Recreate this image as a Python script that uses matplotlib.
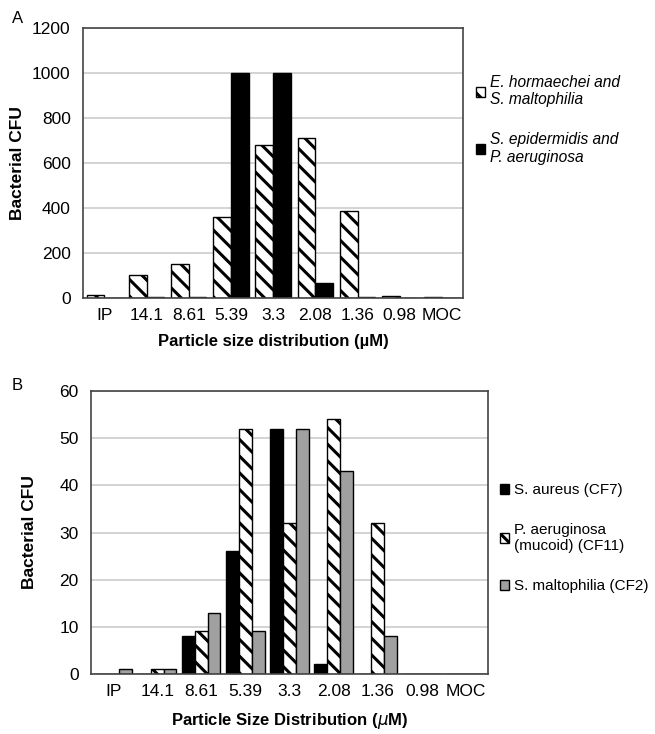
import matplotlib
matplotlib.use("Agg")
import matplotlib.pyplot as plt
import numpy as np

plt.rcParams['font.family'] = ['Liberation Sans', 'DejaVu Sans']
plt.rcParams['hatch.linewidth'] = 2.2

sizes = ['IP', '14.1', '8.61', '5.39', '3.3', '2.08', '1.36', '0.98', 'MOC']

# panel A
a_hormaechei = [15, 100, 150, 360, 680, 710, 385, 10, 5]
a_epidermidis = [0, 5, 5, 1000, 1000, 65, 5, 0, 0]
a_labels = ['E. hormaechei and\nS. maltophilia', 'S. epidermidis and\nP. aeruginosa']

# panel B
b_aureus = [0, 0, 8, 26, 52, 2, 0, 0, 0]
b_aeruginosa = [0, 1, 9, 52, 32, 54, 32, 0, 0]
b_maltophilia = [1, 1, 13, 9, 52, 43, 8, 0, 0]
b_labels = ['S. aureus (CF7)', 'P. aeruginosa\n(mucoid) (CF11)', 'S. maltophilia (CF2)']

fig = plt.figure(figsize=(6.55, 7.34), dpi=100)
ax1 = fig.add_axes([0.127, 0.594, 0.580, 0.368])
ax2 = fig.add_axes([0.139, 0.082, 0.606, 0.385])

x = np.arange(len(sizes))


def style_axes(ax, ymax, step):
    ax.set_xlim(-0.5, len(sizes) - 0.5)
    ax.set_ylim(0, ymax)
    ax.set_yticks(np.arange(0, ymax + 1, step))
    ax.set_xticks(x)
    ax.set_xticklabels(sizes)
    ax.yaxis.grid(True, color='#cccccc', linewidth=1.2)
    ax.set_axisbelow(True)
    ax.tick_params(length=0, labelsize=12.5)
    ax.tick_params(axis='x', pad=7)
    ax.tick_params(axis='y', pad=9)
    for s in ax.spines.values():
        s.set_color('#444444')
        s.set_linewidth(1.2)


# Panel A
w = 0.42
ax1.bar(x - w / 2, a_hormaechei, w, color='white', edgecolor='black',
        hatch='\\\\', linewidth=1, label=a_labels[0])
ax1.bar(x + w / 2, a_epidermidis, w, color='black', edgecolor='black',
        linewidth=1, label=a_labels[1])
style_axes(ax1, 1200, 200)
ax1.set_ylabel('Bacterial CFU', fontsize=12.5, fontweight='bold', labelpad=5)
ax1.set_xlabel('Particle size distribution (µM)', fontsize=12, fontweight='bold', labelpad=8)
leg1 = ax1.legend(loc='center left', bbox_to_anchor=(1.0, 0.66), frameon=False,
                  handlelength=0.6, handleheight=0.6, handletextpad=0.3,
                  labelspacing=1.6, fontsize=11.2, borderaxespad=0.4)
for t in leg1.get_texts():
    t.set_fontstyle('italic')
fig.text(0.018, 0.975, 'A', fontsize=12, va='center')

# Panel B
w = 0.29
ax2.bar(x - w, b_aureus, w, color='black', edgecolor='black', linewidth=1,
        label=b_labels[0])
ax2.bar(x, b_aeruginosa, w, color='white', edgecolor='black',
        hatch='\\\\', linewidth=1, label=b_labels[1])
ax2.bar(x + w, b_maltophilia, w, color='#a0a0a0', edgecolor='black',
        linewidth=1, label=b_labels[2])
style_axes(ax2, 60, 10)
ax2.set_ylabel('Bacterial CFU', fontsize=12.5, fontweight='bold', labelpad=16)
ax2.set_xlabel('Particle Size Distribution ($\\mu$M)', fontsize=12,
               fontweight='bold', labelpad=9)
ax2.legend(loc='center left', bbox_to_anchor=(1.0, 0.48), frameon=False,
           handlelength=0.6, handleheight=0.6, handletextpad=0.3,
           labelspacing=1.7, fontsize=11, borderaxespad=0.4)
fig.text(0.018, 0.475, 'B', fontsize=12, va='center')

fig.savefig('out.png', dpi=100)
